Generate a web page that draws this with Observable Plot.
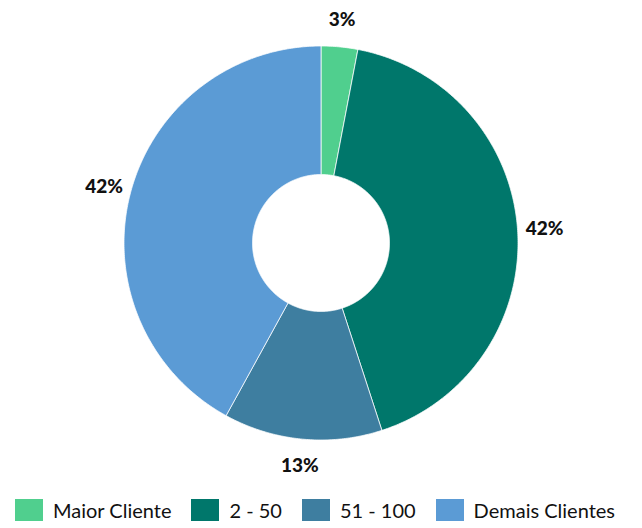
<!DOCTYPE html>
<html><head><meta charset="utf-8">
<script src="https://cdn.jsdelivr.net/npm/d3@7"></script>
<script src="https://cdn.jsdelivr.net/npm/@observablehq/plot@0.6"></script>
<style>
body{margin:0;background:#fff;font-family:Lato,"Open Sans",sans-serif;overflow:hidden;}
#chart svg{display:block}
#legend{height:30px;display:flex;justify-content:center;align-items:flex-start;}
#legend > div{font-size:20px !important;font-family:Lato,sans-serif;color:#111;margin:0 0 0 8px !important;min-height:0 !important;flex-wrap:nowrap !important;white-space:nowrap;}
</style>
</head><body><div id="chart"></div><div id="legend"></div>
<script>
const categories = ["Maior Cliente", "2 - 50", "51 - 100", "Demais Clientes"];
const shares = [3, 42, 13, 42];
const labels = ["3%", "42%", "13%", "42%"];
const colors = ["#50CF8E", "#00776B", "#3E7EA0", "#5B9BD5"];

const outerR = 197, innerR = 68.5, labelR = 224;
const arcs = d3.pie().sort(null).value(d => d)(shares);

const poly = [];
arcs.forEach((p, i) => {
  const n = Math.max(6, Math.ceil((p.endAngle - p.startAngle) / 0.01));
  const pts = [];
  for (let k = 0; k <= n; k++) {
    const a = p.startAngle + (p.endAngle - p.startAngle) * k / n;
    pts.push([outerR * Math.sin(a), outerR * Math.cos(a)]);
  }
  for (let k = n; k >= 0; k--) {
    const a = p.startAngle + (p.endAngle - p.startAngle) * k / n;
    pts.push([innerR * Math.sin(a), innerR * Math.cos(a)]);
  }
  pts.push(pts[0]);
  pts.forEach(([x, y]) => poly.push({cat: categories[i], x, y}));
});

const labelData = arcs.map((p, i) => {
  const a = (p.startAngle + p.endAngle) / 2;
  return {text: labels[i], x: labelR * Math.sin(a), y: labelR * Math.cos(a)};
});

const W = 642, H = 498, cx = 320.5, cy = 242.5;
const chart = Plot.plot({
  width: W, height: H,
  margin: 0,
  x: {domain: [-cx, W - cx], axis: null},
  y: {domain: [-(H - cy), cy], axis: null},
  color: {domain: categories, range: colors},
  style: {background: "#fff", fontFamily: "Lato, sans-serif"},
  marks: [
    Plot.line(poly, {x: "x", y: "y", z: "cat", fill: "cat", stroke: "white", strokeWidth: 0.75, curve: "linear"}),
    Plot.text(labelData, {x: "x", y: "y", text: "text", fontWeight: 900, fontSize: 19, fill: "#111"})
  ]
});
document.getElementById("chart").appendChild(chart);

const lg = Plot.legend({
  color: {type: "ordinal", domain: categories, range: colors},
  swatchWidth: 28, swatchHeight: 22
});
document.getElementById("legend").appendChild(lg);
</script>
</body></html>
